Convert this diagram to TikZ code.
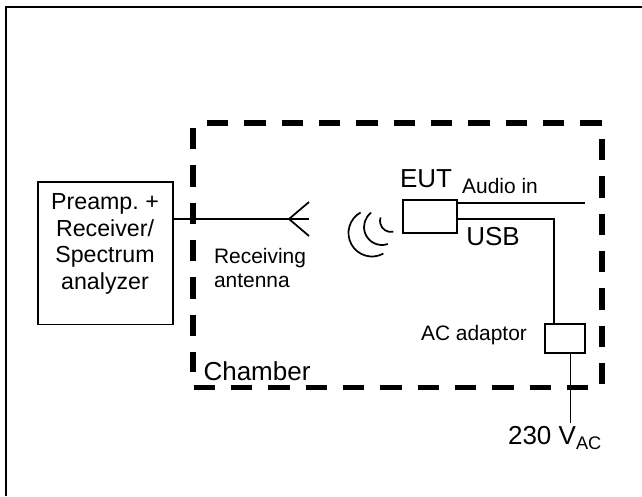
\documentclass[tikz,border=0pt]{standalone}
\usepackage{fontspec}
\setmainfont{Liberation Sans}
\usepackage{tikz}
\tikzset{
  thinline/.style={line width=1.3pt},
  chamberline/.style={line width=4pt,dash pattern=on 16pt off 12pt},
  unitbox/.style={draw,line width=1.3pt,inner sep=0pt},
  bigtext/.style={font=\fontsize{19.5}{23}\selectfont,inner sep=0pt},
  smalltext/.style={font=\fontsize{15.7}{18}\selectfont,inner sep=0pt,align=left},
}
\begin{document}
\begin{tikzpicture}[x=0.75pt,y=0.75pt,yscale=-1,xscale=1]
\useasboundingbox (0,0) rectangle (642,496);
%frame
\draw [line width=1.5pt] (5.5,496) -- (5.5,6.5) -- (642,6.5);
%chamber
\draw [chamberline] (207,123) -- (602,123);
\draw [chamberline] (602,139) -- (602,385);
\draw [chamberline] (193,128) -- (193,372);
\draw [chamberline] (193.5,387.5) -- (590,387.5);
%boxes
\node (analyzer) [unitbox,minimum width=101.5pt,minimum height=107pt,anchor=north west] at (37,181) {};
\node (eut) [unitbox,minimum width=40.5pt,minimum height=24.75pt,anchor=north west] at (402,199) {};
\node (adaptor) [unitbox,minimum width=30pt,minimum height=21.75pt,anchor=north west] at (544,323) {};
\coordinate (tip) at (289,219);
\coordinate (armup) at (309,202);
\coordinate (armdown) at (309,236);
\coordinate (audio) at (585,203);
\coordinate (mains) at (570.5,423);
\draw [thinline] (analyzer.east |- tip) -- (armup |- tip);
\draw [thinline] (armup) -- (tip) -- (armdown);
\draw [thinline] (eut.east |- audio) -- (audio);
\draw [thinline] (eut.east |- 0,219) -- (554,219) -- (adaptor.north -| 554,0);
\draw [thinline] (adaptor.south -| mains) -- (mains);
%waves
\draw [thinline] (391,221) ++(78:11) arc (78:199:11);
\draw [thinline] (382,227) ++(71:18) arc (71:233:18);
\draw [thinline] (372,233) ++(61:23.5) arc (61:241:23.5);
%labels
\node (preamp) [font=\fontsize{17.4}{20}\selectfont,align=center,inner sep=0pt] at (105,244) {Preamp.\ +\\Receiver/\\Spectrum\\analyzer};
\node (eutlabel) [bigtext] at (426,179) {EUT};
\node (usb) [bigtext] at (493,237) {USB};
\node (chamber) [bigtext] at (257,371) {Chamber};
\node (vac) [bigtext] at (555,438) {230 V$_{\mathrm{AC}}$};
\node (audiolabel) [smalltext] at (500,186) {Audio in};
\node (antenna) [smalltext] at (260,268) {Receiving\\antenna};
\node (aclabel) [smalltext] at (474,335) {AC adaptor};
\end{tikzpicture}
\end{document}
